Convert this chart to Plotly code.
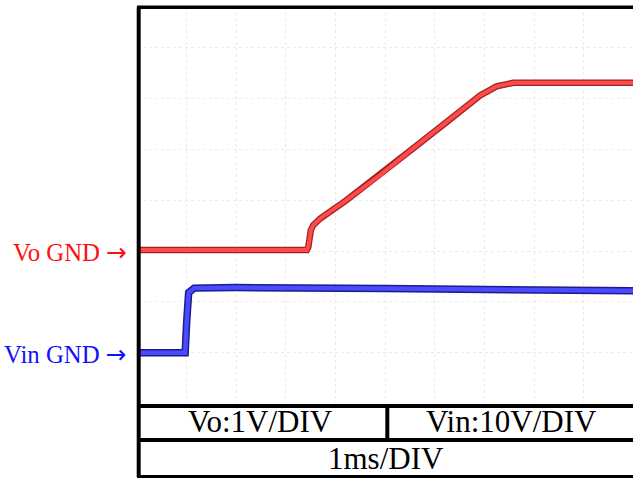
import plotly.graph_objects as go

# ---- waveform data (time in ms, voltage in V) ----
vo_time = [0.0, 3.42, 3.45, 3.50, 3.55, 3.69, 4.22, 4.89, 5.56, 6.24, 6.91, 7.24, 7.58, 10.0]
vo_volt = [0.02, 0.02, 0.08, 0.41, 0.51, 0.64, 1.00, 1.49, 2.02, 2.54, 3.06, 3.24, 3.31, 3.31]

vin_time = [0.0, 0.97, 1.00, 1.04, 1.15, 2.0, 5.0, 8.0, 10.0]
vin_volt = [0.0, 0.0, 6.0, 11.8, 12.7, 12.8, 12.6, 12.3, 12.2]

# ---- scope settings ----
scale_labels = ["Vo:1V/DIV", "Vin:10V/DIV"]
time_label = "1ms/DIV"
gnd_labels = ["Vo GND", "Vin GND"]
ARROW = "<span style='font-family:DejaVu Sans'>\u2192</span>"

W, H = 633, 478
SERIF = "Liberation Serif, Times New Roman, serif"


def px(x):
    return x / W


def py(y):
    return 1 - y / H


fig = go.Figure()

# Vo channel: dark edge under a bright red core
fig.add_trace(go.Scatter(x=vo_time, y=vo_volt, mode="lines", yaxis="y",
                         line=dict(color="#9e2323", width=6.5), hoverinfo="skip"))
fig.add_trace(go.Scatter(x=vo_time, y=vo_volt, mode="lines", yaxis="y",
                         line=dict(color="#ff4a4a", width=4), hoverinfo="skip"))
# Vin channel: navy edge under a bright blue core
fig.add_trace(go.Scatter(x=vin_time, y=vin_volt, mode="lines", yaxis="y2",
                         line=dict(color="#1c1c8e", width=7.5), hoverinfo="skip"))
fig.add_trace(go.Scatter(x=vin_time, y=vin_volt, mode="lines", yaxis="y2",
                         line=dict(color="#4a4aff", width=4.5), hoverinfo="skip"))

y_bottom, y_top = 403.5, 6.0
div_px = 50.83
ndiv = (y_bottom - y_top) / div_px

x_left = 137.0
xdiv_px = 49.66

grid = dict(showgrid=True, gridcolor="#ebebeb", gridwidth=1, griddash="dot",
            zeroline=False, showticklabels=False, ticks="", showline=False)

fig.update_layout(
    width=W, height=H,
    margin=dict(l=0, r=0, t=0, b=0),
    paper_bgcolor="white", plot_bgcolor="white",
    showlegend=False,
    xaxis=dict(domain=[px(x_left), 1], range=[0, (W - x_left) / xdiv_px],
               dtick=1, tick0=0, **grid),
    yaxis=dict(domain=[py(y_bottom), py(y_top)], range=[-3, ndiv - 3],
               dtick=1, tick0=0, **grid),
    yaxis2=dict(domain=[py(y_bottom), py(y_top)], range=[-10, (ndiv - 1) * 10],
                overlaying="y", showgrid=False, zeroline=False,
                showticklabels=False, ticks="", showline=False),
)

# frame and table lines
black = "black"
lines = [
    (138.7, 7.3, 138.7, 477, 4),      # left border
    (137, 7.3, W + 5, 7.3, 3.5),      # top border
    (137, 406, W + 5, 406, 4),        # plot / table divider
    (137, 440, W + 5, 440, 4),        # between table rows
    (137, 476.5, W + 5, 476.5, 3),    # table bottom
    (387.3, 406, 387.3, 440, 4),      # cell divider
]
for x0, y0, x1, y1, w in lines:
    fig.add_shape(type="line", xref="paper", yref="paper",
                  x0=px(x0), y0=py(y0), x1=px(x1), y1=py(y1),
                  line=dict(color=black, width=w))

# channel ground markers
gnd_font = 24.8
fig.add_annotation(x=px(129), y=py(252), xref="paper", yref="paper",
                   text=gnd_labels[0] + " " + ARROW, showarrow=False, xanchor="right",
                   yanchor="middle", font=dict(family=SERIF, size=gnd_font, color="#ff1010"))
fig.add_annotation(x=px(129), y=py(354), xref="paper", yref="paper",
                   text=gnd_labels[1] + " " + ARROW, showarrow=False, xanchor="right",
                   yanchor="middle", font=dict(family=SERIF, size=gnd_font, color="#1010ff"))

# table text
tfont = dict(family=SERIF, size=31, color="black")
fig.add_annotation(x=px(260), y=py(421.5), xref="paper", yref="paper",
                   text=scale_labels[0], showarrow=False, xanchor="center",
                   yanchor="middle", font=tfont)
fig.add_annotation(x=px(511), y=py(421.5), xref="paper", yref="paper",
                   text=scale_labels[1], showarrow=False, xanchor="center",
                   yanchor="middle", font=tfont)
fig.add_annotation(x=px(386), y=py(458), xref="paper", yref="paper",
                   text=time_label, showarrow=False, xanchor="center",
                   yanchor="middle", font=tfont)

fig.write_html("out.html")
